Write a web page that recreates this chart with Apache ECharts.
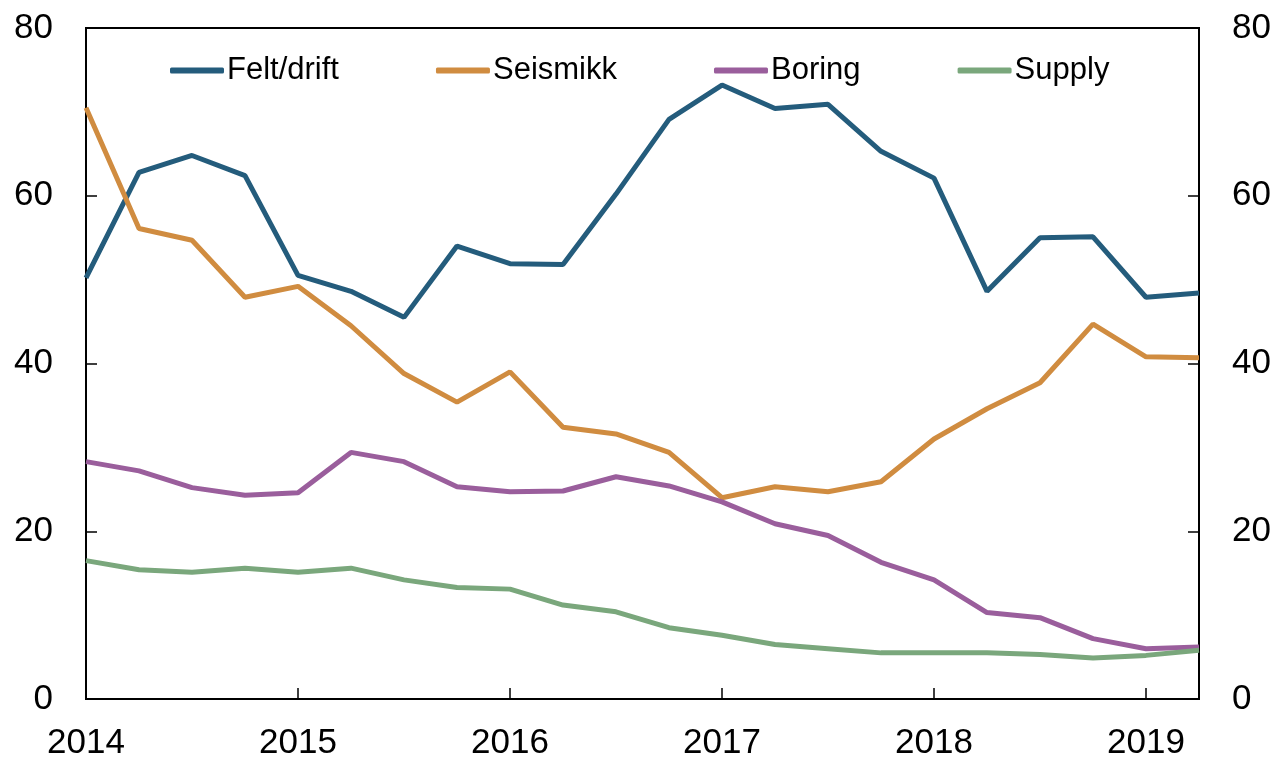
<!DOCTYPE html>
<html>
<head>
<meta charset="utf-8">
<script src="https://cdn.jsdelivr.net/npm/echarts@6/dist/echarts.min.js"></script>
<style>
html,body{margin:0;padding:0;background:#fff;}
#chart{width:1276px;height:761px;}
</style>
</head>
<body>
<div id="chart"></div>
<script>
var quarters = ['2014K1','2014K2','2014K3','2014K4','2015K1','2015K2','2015K3','2015K4','2016K1','2016K2','2016K3','2016K4','2017K1','2017K2','2017K3','2017K4','2018K1','2018K2','2018K3','2018K4','2019K1','2019K2'];
var feltDrift = [50.2, 62.8, 64.8, 62.4, 50.5, 48.6, 45.5, 54.0, 51.9, 51.8, 60.2, 69.1, 73.2, 70.4, 70.9, 65.3, 62.1, 48.6, 55.0, 55.1, 47.9, 48.4];
var seismikk = [70.5, 56.1, 54.7, 47.9, 49.2, 44.5, 38.8, 35.4, 39.0, 32.4, 31.6, 29.4, 24.0, 25.3, 24.7, 25.9, 31.0, 34.6, 37.7, 44.7, 40.8, 40.7];
var boring = [28.3, 27.2, 25.2, 24.3, 24.6, 29.4, 28.3, 25.3, 24.7, 24.8, 26.5, 25.4, 23.5, 20.9, 19.5, 16.3, 14.2, 10.3, 9.7, 7.2, 6.0, 6.2];
var supply = [16.5, 15.4, 15.1, 15.6, 15.1, 15.6, 14.2, 13.3, 13.1, 11.2, 10.4, 8.5, 7.6, 6.5, 6.0, 5.5, 5.5, 5.5, 5.3, 4.9, 5.2, 5.8];
var seriesNames = ['Felt/drift', 'Seismikk', 'Boring', 'Supply'];
var colors = ['#245c7c', '#d08c40', '#9a5e9c', '#7aa77c'];
var yTicks = [0, 20, 40, 60, 80];

var font = 'Liberation Sans, Arial, sans-serif';
var chart = echarts.init(document.getElementById('chart'));
var yAxisBase = function (pos) {
  return {
    type: 'value', position: pos, min: yTicks[0], max: yTicks[yTicks.length - 1], interval: yTicks[1] - yTicks[0],
    axisLine: { show: true, lineStyle: { color: '#000', width: 2 } },
    axisTick: { show: true, inside: true, length: 11, lineStyle: { color: '#000', width: 1.5 } },
    axisLabel: { fontSize: 35, color: '#000', fontFamily: font, margin: 33 },
    splitLine: { show: false }
  };
};
var allData = [feltDrift, seismikk, boring, supply];
chart.setOption({
  animation: false,
  color: colors,
  grid: { left: 86, right: 77, top: 28, bottom: 62, show: true, borderColor: '#000', borderWidth: 2 },
  legend: {
    left: 165, top: 50, itemWidth: 54, itemHeight: 6, itemGap: 97, icon: 'roundRect',
    textStyle: { fontSize: 31, color: '#000', fontFamily: font, padding: [0, 0, 0, -2] },
    data: seriesNames
  },
  xAxis: {
    type: 'category', data: quarters, boundaryGap: false,
    axisLine: { lineStyle: { color: '#000', width: 2 } },
    axisTick: { show: true, inside: true, length: 11, interval: function (i) { return i % 4 === 0; }, lineStyle: { color: '#000', width: 1.5 } },
    axisLabel: { fontSize: 35, color: '#000', fontFamily: font, margin: 27,
      interval: function (i) { return i % 4 === 0; },
      formatter: function (v) { return v.slice(0, 4); } },
    splitLine: { show: false }
  },
  yAxis: [yAxisBase('left'), yAxisBase('right')],
  series: seriesNames.map(function (n, k) {
    return { name: n, type: 'line', yAxisIndex: 0, data: allData[k], showSymbol: false, symbol: 'none',
      lineStyle: { width: 5, color: colors[k] }, itemStyle: { color: colors[k] } };
  })
});
</script>
</body>
</html>
